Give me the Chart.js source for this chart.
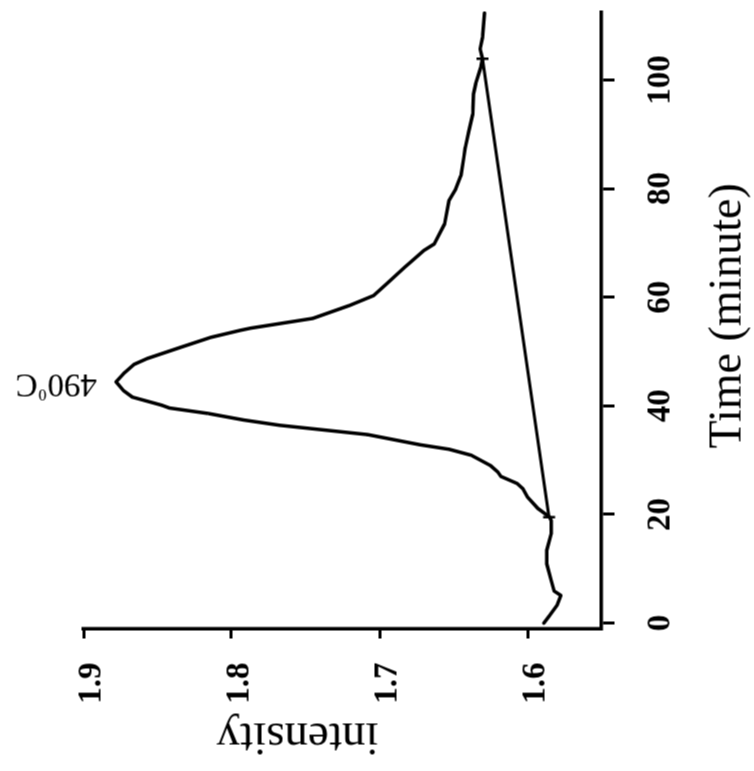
<!DOCTYPE html>
<html>
<head>
<meta charset="utf-8">
<script src="https://cdn.jsdelivr.net/npm/chart.js@4/dist/chart.umd.min.js"></script>
<style>
  html, body { margin: 0; padding: 0; background: #fff; overflow: hidden; }
  /* el grafico original esta girado 90 grados */
  #marco { position: absolute; left: -8.5px; top: 8.5px; width: 771px; height: 754px; transform: rotate(-90deg); }
</style>
</head>
<body>
<div id="marco"><canvas id="graficoIntensidad" width="771" height="754"></canvas></div>
<script>
const tiempos = [0, 1.4, 3.3, 5.1, 5.9, 7.9, 10.9, 13.4, 16.4, 18.9,
    19.5, 21.1, 23.2, 24.7, 25.7, 27.0, 27.8, 29.0, 30.9, 32.0,
    32.8, 34.7, 36.4, 37.4, 38.6, 39.6, 40.1, 41.6, 42.8, 44.4,
    45.9, 47.6, 48.7, 50.8, 52.6, 53.9, 54.3, 56.1, 58.5, 60.3,
    62.5, 65.5, 66.7, 68.6, 69.8, 73.5, 77.8, 79.9, 82.4, 85.8,
    87.6, 90.7, 93.7, 97.4, 99.3, 102.3, 103.9, 105.7, 107.8, 112.3];
const intensidad = [1.589, 1.585, 1.580, 1.5775, 1.582, 1.584, 1.587, 1.587, 1.584, 1.584,
    1.585, 1.593, 1.600, 1.603, 1.607, 1.618, 1.620, 1.625, 1.638, 1.653,
    1.672, 1.708, 1.767, 1.792, 1.816, 1.842, 1.847, 1.867, 1.873, 1.878,
    1.873, 1.866, 1.857, 1.834, 1.814, 1.794, 1.787, 1.745, 1.720, 1.704,
    1.695, 1.683, 1.678, 1.670, 1.663, 1.656, 1.653, 1.6485, 1.645, 1.643,
    1.642, 1.6395, 1.637, 1.6365, 1.635, 1.6316, 1.6304, 1.632, 1.6304, 1.629];

// linea base del pico
const baseTiempos = [19.5, 103.9];
const baseIntensidad = [1.5854, 1.6304];

const ticksTiempo = [0, 20, 40, 60, 80, 100];
const ticksIntensidad = [1.6, 1.7, 1.8, 1.9];
const etiquetaPico = '490';

const fuente = "'Liberation Serif', 'Times New Roman', serif";

const textos = {
    id: 'textos',
    afterDraw(chart) {
        const c = chart.ctx;
        c.save();
        c.fillStyle = '#000';
        c.textBaseline = 'alphabetic';

        // titulo eje tiempo
        c.font = '46px ' + fuente;
        c.textAlign = 'left';
        c.fillText('Time (minute)', 323, 740);

        // titulo eje intensidad
        c.save();
        c.font = '47px ' + fuente;
        c.translate(48, 297);
        c.rotate(-Math.PI / 2);
        c.textAlign = 'center';
        c.fillText('intensity', 0, 0);
        c.restore();

        // etiqueta del pico
        const iMax = intensidad.indexOf(Math.max(...intensidad));
        const px = chart.scales.x.getPixelForValue(tiempos[iMax]);
        const py = chart.scales.y.getPixelForValue(intensidad[iMax]);
        c.translate(px + 7, py - 19);
        c.rotate(-Math.PI / 2);
        c.textAlign = 'left';
        c.font = '33px ' + fuente;
        c.fillText(etiquetaPico, 0, 0);
        let w = c.measureText(etiquetaPico).width + 1;
        c.font = '16px ' + fuente;
        c.fillText('0', w, -15);
        w += c.measureText('0').width + 1;
        c.font = '33px ' + fuente;
        c.fillText('C', w, 0);
        c.restore();
    }
};

const ctx = document.getElementById('graficoIntensidad').getContext('2d');

new Chart(ctx, {
    type: 'line',
    data: {
        datasets: [{
            data: tiempos.map((t, i) => ({ x: t, y: intensidad[i] })),
            borderColor: '#000',
            borderWidth: 3.5,
            borderJoinStyle: 'round',
            borderCapStyle: 'round',
            pointRadius: 0,
            tension: 0,
            fill: false
        }, {
            data: baseTiempos.map((t, i) => ({ x: t, y: baseIntensidad[i] })),
            borderColor: '#000',
            borderWidth: 3,
            pointStyle: 'line',
            pointRadius: 6,
            pointRotation: 90,
            pointBorderWidth: 2.5,
            pointBorderColor: '#000',
            tension: 0,
            fill: false
        }]
    },
    options: {
        responsive: false,
        animation: false,
        devicePixelRatio: 1,
        layout: {
            padding: { top: 83, right: 11, left: 0, bottom: 0 }
        },
        plugins: {
            legend: { display: false },
            tooltip: { enabled: false }
        },
        scales: {
            x: {
                type: 'linear',
                position: 'bottom',
                min: -1,
                max: 112.6,
                afterFit: scale => { scale.height = 153; },
                afterBuildTicks: axis => { axis.ticks = ticksTiempo.map(v => ({ value: v })); },
                border: { display: true, color: '#000', width: 3.5 },
                grid: { drawOnChartArea: false, drawTicks: true, tickLength: 13, tickWidth: 3, tickColor: '#000' },
                ticks: {
                    color: '#000',
                    padding: 27,
                    maxRotation: 0,
                    font: { family: fuente, size: 33, weight: 'bold' }
                }
            },
            y: {
                min: 1.55,
                max: 1.9,
                afterFit: scale => { scale.width = 143; },
                afterBuildTicks: axis => { axis.ticks = ticksIntensidad.map(v => ({ value: v })); },
                border: { display: true, color: '#000', width: 3.5 },
                grid: { drawOnChartArea: false, drawTicks: true, tickLength: 10, tickWidth: 3, tickColor: '#000' },
                ticks: {
                    color: '#000',
                    padding: 24,
                    labelOffset: 8,
                    font: { family: fuente, size: 33, weight: 'bold' },
                    callback: value => value.toFixed(1)
                }
            }
        }
    },
    plugins: [textos]
});
</script>
</body>
</html>
